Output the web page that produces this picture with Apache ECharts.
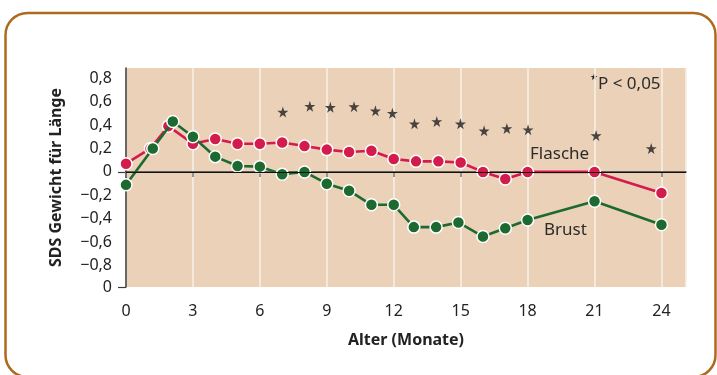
<!DOCTYPE html>
<html>
<head>
<meta charset="utf-8">
<style>
  html, body { margin: 0; padding: 0; background: #ffffff; }
  #chart { width: 717px; height: 375px; }
</style>
<script src="https://cdn.jsdelivr.net/npm/echarts@6/dist/echarts.min.js"></script>
</head>
<body>
<div id="chart"></div>
<script>
// Age in months and weight-for-length SDS, bottle-fed group
const flascheMonths = [0, 1.1, 1.9, 3, 4, 5, 6, 7, 8, 9, 10, 11, 12, 13, 14, 15, 16, 17, 18, 21, 24];
const flascheValues = [0.07, 0.20, 0.39, 0.24, 0.28, 0.24, 0.24, 0.25, 0.22, 0.19, 0.17, 0.18, 0.11, 0.09, 0.09, 0.08, 0.0, -0.06, 0.0, 0.0, -0.18];

// Breast-fed group
const brustMonths = [0, 1.2, 2.1, 3, 4, 5, 6, 7, 8, 9, 10, 11, 12, 12.9, 13.9, 14.9, 16, 17, 18, 21, 24];
const brustValues = [-0.11, 0.20, 0.43, 0.30, 0.13, 0.05, 0.045, -0.02, 0.0, -0.10, -0.16, -0.28, -0.28, -0.47, -0.47, -0.43, -0.55, -0.48, -0.41, -0.25, -0.45];

// Significance markers (P < 0,05)
const starMonths = [7.03, 8.24, 9.16, 10.22, 11.18, 11.94, 12.93, 13.93, 14.99, 16.05, 17.07, 18.02, 21.07, 23.54];
const starValues = [0.51, 0.56, 0.55, 0.556, 0.52, 0.50, 0.41, 0.43, 0.41, 0.35, 0.37, 0.36, 0.31, 0.20];

// Axis ticks and their printed labels
const xTickStep = 3;
const yTickValues = [-0.98, -0.8, -0.6, -0.4, -0.2, 0, 0.2, 0.4, 0.6, 0.8];
const yTickLabels = ['0', '\u22120,8', '\u22120,6', '\u22120,4', '\u22120,2', '0', '0,2', '0,4', '0,6', '0,8'];

const FONT = 'Noto Sans';
const STAR = 'path://M50,0 L61,35 L98,35 L68,57 L79,91 L50,70 L21,91 L32,57 L2,35 L39,35 Z';

const zip = (xs, ys) => xs.map((x, i) => [x, ys[i]]);

const chart = echarts.init(document.getElementById('chart'), null, { renderer: 'canvas' });

chart.setOption({
  animation: false,
  backgroundColor: '#ffffff',
  grid: {
    left: 126, right: 31, top: 68, bottom: 88,
    show: true, backgroundColor: '#EBD1B8', borderWidth: 0
  },
  xAxis: {
    type: 'value',
    min: 0, max: 25.1, interval: xTickStep,
    name: 'Alter (Monate)',
    nameLocation: 'middle',
    nameGap: 45,
    nameTextStyle: { fontFamily: FONT, fontSize: 16, fontWeight: 'bold', color: '#222' },
    axisLine: { show: true, lineStyle: { color: '#3a3a3a', width: 1.5 } },
    axisTick: { show: true, length: 5, lineStyle: { color: '#777', width: 1.5 } },
    axisLabel: {
      margin: 16, showMaxLabel: false,
      fontFamily: FONT, fontSize: 16, color: '#222'
    },
    splitLine: { show: true, lineStyle: { color: '#f7efe6', width: 1.6 } }
  },
  yAxis: {
    type: 'value',
    min: -0.98, max: 0.885,
    name: 'SDS Gewicht f\u00fcr L\u00e4nge',
    nameLocation: 'middle',
    nameGap: 62,
    nameRotate: 90,
    nameTextStyle: { fontFamily: FONT, fontSize: 16, fontWeight: 'bold', color: '#222' },
    axisLine: { show: true, lineStyle: { color: '#3a3a3a', width: 1.5 } },
    axisTick: { show: true, customValues: [-0.98, 0], length: 8, lineStyle: { color: '#3a3a3a', width: 1.2 } },
    axisLabel: {
      customValues: yTickValues, margin: 14,
      fontFamily: FONT, fontSize: 16, color: '#222',
      formatter: (v) => {
        const i = yTickValues.findIndex(t => Math.abs(t - v) < 1e-6);
        return i >= 0 ? yTickLabels[i] : '';
      }
    },
    splitLine: { show: false }
  },
  series: [
    {
      // zero reference line
      type: 'line',
      data: [],
      z: 1,
      markLine: {
        silent: true, symbol: 'none', label: { show: false },
        lineStyle: { color: '#111', width: 1, type: 'solid' },
        data: [{ yAxis: 0 }]
      }
    },
    {
      name: 'Flasche',
      type: 'line',
      data: zip(flascheMonths, flascheValues),
      symbol: 'circle',
      symbolSize: 12,
      lineStyle: { color: '#D31C4C', width: 2.6 },
      itemStyle: { color: '#D31C4C', borderColor: '#ffffff', borderWidth: 1.5 },
      z: 3
    },
    {
      name: 'Brust',
      type: 'line',
      data: zip(brustMonths, brustValues),
      symbol: 'circle',
      symbolSize: 12,
      lineStyle: { color: '#1D6A30', width: 2.6 },
      itemStyle: { color: '#1D6A30', borderColor: '#ffffff', borderWidth: 1.5 },
      z: 4
    },
    {
      type: 'scatter',
      data: zip(starMonths, starValues),
      symbol: STAR,
      symbolSize: 11,
      itemStyle: { color: '#1e1e1e' },
      z: 5
    }
  ],
  graphic: [
    {
      type: 'rect',
      shape: { x: 5.5, y: 13, width: 710, height: 364, r: 22 },
      style: { fill: 'none', stroke: '#AD6A1F', lineWidth: 2.5 },
      z: 0
    },
    {
      type: 'text', left: 530, top: 146,
      style: { text: 'Flasche', fontFamily: FONT, fontSize: 17, fill: '#2b2b2b' }
    },
    {
      type: 'text', left: 544, top: 222,
      style: { text: 'Brust', fontFamily: FONT, fontSize: 17, fill: '#2b2b2b' }
    },
    {
      type: 'text', left: 590, top: 73,
      style: { text: '\u2605', fontFamily: 'DejaVu Sans', fontSize: 9, fill: '#1e1e1e' }
    },
    {
      type: 'text', left: 598, top: 76,
      style: { text: 'P < 0,05', fontFamily: FONT, fontSize: 17, fill: '#2b2b2b' }
    }
  ]
});
</script>
</body>
</html>
